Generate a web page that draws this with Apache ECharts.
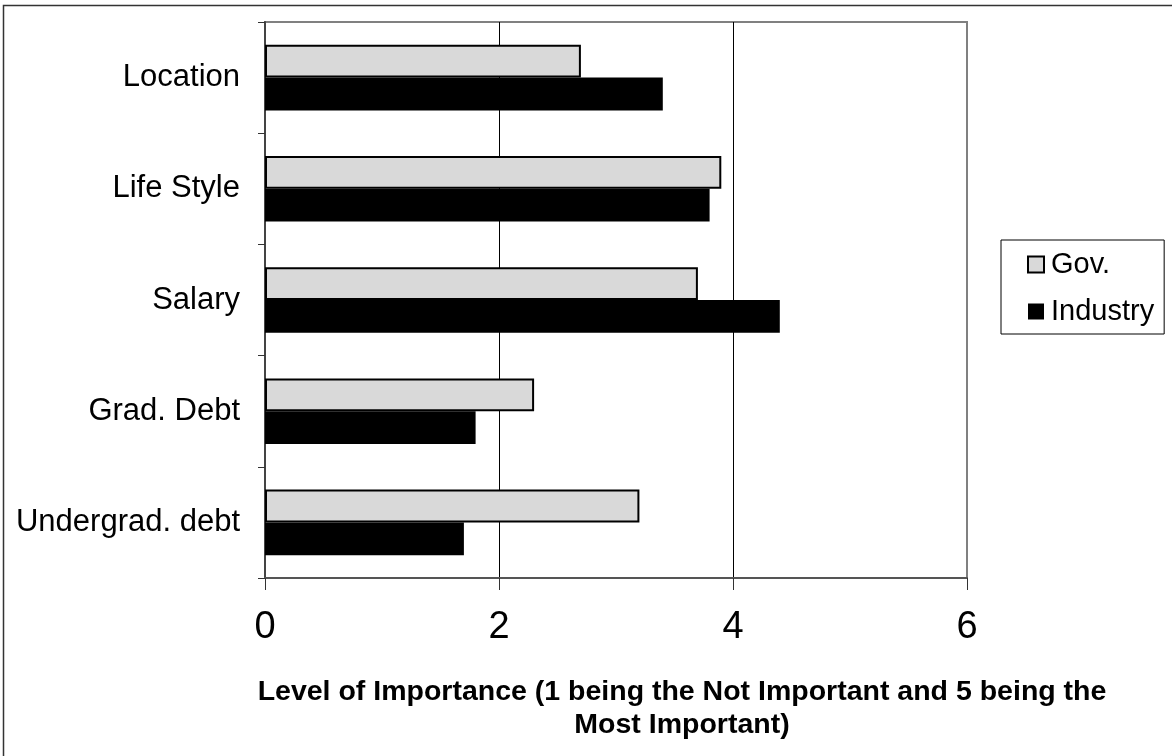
<!DOCTYPE html>
<html>
<head>
<meta charset="utf-8">
<script src="https://cdn.jsdelivr.net/npm/echarts@6/dist/echarts.min.js"></script>
<style>
html,body{margin:0;padding:0;background:#fff;}
#chart{width:1172px;height:756px;}
</style>
</head>
<body>
<div id="chart"></div>
<script>
const categories = ['Location', 'Life Style', 'Salary', 'Grad. Debt', 'Undergrad. debt'];
const govValues = [2.7, 3.9, 3.7, 2.3, 3.2];
const industryValues = [3.4, 3.8, 4.4, 1.8, 1.7];
const seriesNames = ['Gov.', 'Industry'];
const axisTitle = 'Level of Importance (1 being the Not Important and 5 being the\nMost Important)';

const FONT = "'Liberation Sans', Arial, sans-serif";
const chart = echarts.init(document.getElementById('chart'), null, {renderer: 'canvas'});

chart.setOption({
  animation: false,
  backgroundColor: '#ffffff',
  textStyle: {fontFamily: FONT, color: '#000'},
  grid: {
    left: 265, right: 205, top: 22, bottom: 178,
    show: true, borderColor: '#808080', borderWidth: 2, backgroundColor: 'transparent'
  },
  legend: {
    orient: 'vertical',
    left: 1001, top: 240,
    padding: [9, 10, 7, 26],
    borderColor: '#000', borderWidth: 1,
    itemWidth: 16, itemHeight: 16, itemGap: 16,
    icon: 'rect',
    textStyle: {fontFamily: FONT, fontSize: 29, color: '#000', lineHeight: 31, padding: [0, 0, 0, 2]},
    data: seriesNames
  },
  xAxis: {
    type: 'value',
    min: 0, max: 6, interval: 2,
    axisLine: {show: true, lineStyle: {color: '#555', width: 2}},
    axisTick: {show: true, length: 12, lineStyle: {color: '#333', width: 1}},
    axisLabel: {fontFamily: FONT, fontSize: 38, color: '#000', margin: 31},
    splitLine: {show: true, showMinLine: false, showMaxLine: false, lineStyle: {color: '#000', width: 1}}
  },
  yAxis: {
    type: 'category',
    data: categories,
    inverse: true,
    axisLine: {show: true, lineStyle: {color: '#444', width: 2}},
    axisTick: {show: true, length: 7, lineStyle: {color: '#333', width: 1}},
    axisLabel: {fontFamily: FONT, fontSize: 31, color: '#000', margin: 25},
    splitLine: {show: false}
  },
  series: [
    {
      name: seriesNames[0], type: 'bar', data: govValues,
      barGap: '0%', barCategoryGap: '41%',
      itemStyle: {color: '#d9d9d9', borderColor: '#000', borderWidth: 2}
    },
    {
      name: seriesNames[1], type: 'bar', data: industryValues,
      barGap: '0%', barCategoryGap: '41%',
      itemStyle: {color: '#000'}
    }
  ],
  graphic: [
    {
      type: 'rect', silent: true, z: 100,
      shape: {x: 3.5, y: 5.5, width: 1300, height: 900},
      style: {fill: 'none', stroke: '#333', lineWidth: 1.5}
    },
    {
      type: 'text', silent: true,
      x: 682, y: 709,
      style: {
        text: axisTitle, fontFamily: FONT, fontSize: 28.5, fontWeight: 'bold',
        fill: '#000', align: 'center', verticalAlign: 'middle', lineHeight: 33
      }
    }
  ]
});
</script>
</body>
</html>
